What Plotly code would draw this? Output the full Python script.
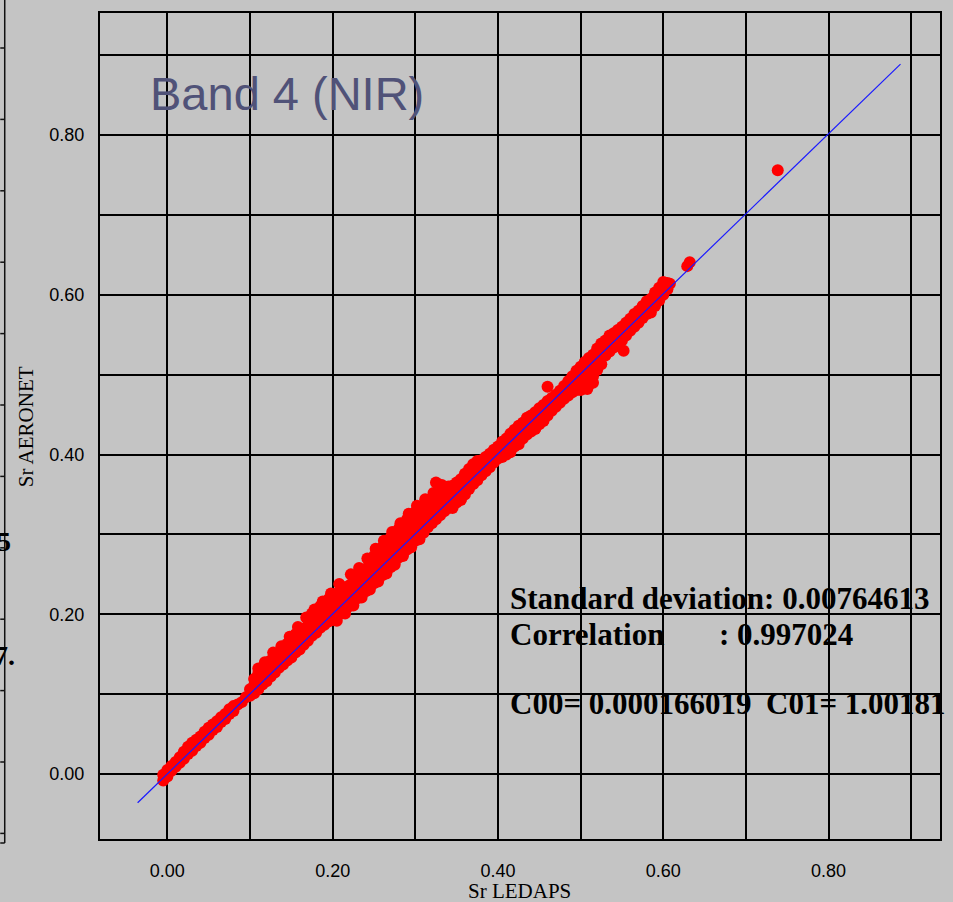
import plotly.graph_objects as go

# ---------------- data ----------------
sr_ledaps = [
    -0.005, -0.005, 0.000, 0.000, 0.005, 0.005, 0.010, 0.010, 0.015, 0.015,
    0.020, 0.020, 0.025, 0.025, 0.030, 0.030, 0.035, 0.035, 0.040, 0.040,
    0.045, 0.045, 0.050, 0.050, 0.055, 0.055, 0.060, 0.060, 0.065, 0.065,
    0.070, 0.070, 0.075, 0.075, 0.080, 0.080, 0.085, 0.090, 0.095, 0.100, 0.100,
    0.105, 0.105, 0.105, 0.110, 0.110, 0.110, 0.115, 0.115, 0.115,
    0.120, 0.120, 0.120, 0.125, 0.125, 0.125, 0.130, 0.130, 0.130,
    0.135, 0.135, 0.135, 0.140, 0.140, 0.140, 0.145, 0.145, 0.145,
    0.150, 0.150, 0.150, 0.155, 0.155, 0.155, 0.160, 0.160, 0.160, 0.160,
    0.165, 0.165, 0.165, 0.170, 0.170, 0.170, 0.170, 0.175, 0.175, 0.175, 0.175,
    0.180, 0.180, 0.180, 0.180, 0.185, 0.185, 0.185, 0.185,
    0.190, 0.190, 0.190, 0.190, 0.195, 0.195, 0.195, 0.195,
    0.200, 0.200, 0.200, 0.200, 0.205, 0.205, 0.205, 0.205,
    0.210, 0.210, 0.210, 0.210, 0.210, 0.215, 0.215, 0.215, 0.215,
    0.220, 0.220, 0.220, 0.220, 0.225, 0.225, 0.225, 0.225,
    0.230, 0.230, 0.230, 0.230, 0.235, 0.235, 0.235, 0.235,
    0.240, 0.240, 0.240, 0.240, 0.245, 0.245, 0.245, 0.245,
    0.250, 0.250, 0.250, 0.250, 0.250, 0.255, 0.255, 0.255, 0.255,
    0.260, 0.260, 0.260, 0.260, 0.260, 0.265, 0.265, 0.265, 0.265,
    0.270, 0.270, 0.270, 0.270, 0.270, 0.275, 0.275, 0.275, 0.275, 0.275,
    0.280, 0.280, 0.280, 0.280, 0.280, 0.285, 0.285, 0.285, 0.285, 0.285,
    0.290, 0.290, 0.290, 0.290, 0.290, 0.295, 0.295, 0.295, 0.295, 0.295,
    0.300, 0.300, 0.300, 0.300, 0.300, 0.305, 0.305, 0.305, 0.305, 0.305,
    0.310, 0.310, 0.310, 0.310, 0.310, 0.315, 0.315, 0.315, 0.315,
    0.320, 0.320, 0.320, 0.320, 0.325, 0.325, 0.325, 0.325, 0.325,
    0.330, 0.330, 0.330, 0.330, 0.335, 0.335, 0.335, 0.335,
    0.340, 0.340, 0.340, 0.340, 0.345, 0.345, 0.345, 0.345,
    0.350, 0.350, 0.350, 0.350, 0.355, 0.355, 0.355, 0.355,
    0.360, 0.360, 0.360, 0.360, 0.365, 0.365, 0.365, 0.365,
    0.370, 0.370, 0.370, 0.370, 0.375, 0.375, 0.375, 0.375,
    0.380, 0.380, 0.380, 0.385, 0.385, 0.385, 0.390, 0.390, 0.390,
    0.395, 0.395, 0.395, 0.400, 0.400, 0.400, 0.405, 0.405, 0.405,
    0.410, 0.410, 0.410, 0.415, 0.415, 0.415, 0.420, 0.420, 0.420,
    0.425, 0.425, 0.425, 0.430, 0.430, 0.430, 0.435, 0.435, 0.435,
    0.440, 0.440, 0.440, 0.445, 0.445, 0.445, 0.450, 0.450, 0.450,
    0.455, 0.455, 0.455, 0.460, 0.460, 0.460, 0.460, 0.465, 0.465, 0.465,
    0.470, 0.470, 0.470, 0.475, 0.475, 0.475, 0.480, 0.480, 0.480,
    0.485, 0.485, 0.485, 0.490, 0.490, 0.490, 0.495, 0.495, 0.495, 0.495,
    0.500, 0.500, 0.500, 0.500, 0.505, 0.505, 0.505, 0.505, 0.505,
    0.510, 0.510, 0.510, 0.510, 0.510, 0.515, 0.515, 0.515, 0.515,
    0.520, 0.520, 0.520, 0.520, 0.525, 0.525, 0.525, 0.525,
    0.530, 0.530, 0.530, 0.535, 0.535, 0.535, 0.540, 0.540, 0.540,
    0.545, 0.545, 0.545, 0.550, 0.550, 0.550, 0.552,
    0.555, 0.555, 0.555, 0.560, 0.560, 0.560, 0.565, 0.565, 0.565,
    0.570, 0.570, 0.570, 0.575, 0.575, 0.575, 0.580, 0.580, 0.580,
    0.585, 0.585, 0.585, 0.590, 0.590, 0.590, 0.595, 0.595, 0.595,
    0.600, 0.600, 0.600, 0.605, 0.605, 0.608,
    0.629, 0.632, 0.7385,
    # upper fringe
    0.110, 0.118, 0.128, 0.138, 0.148, 0.158, 0.168, 0.178, 0.188, 0.198,
    0.208, 0.222, 0.232, 0.242, 0.252, 0.262, 0.272, 0.282, 0.292, 0.302,
    0.312, 0.322, 0.332,
    # lower fringe
    0.205, 0.215, 0.225, 0.235, 0.245, 0.255, 0.265, 0.275, 0.285, 0.295,
    0.305, 0.345, 0.355, 0.415, 0.425, 0.445, 0.455, 0.500, 0.508, 0.515,
]
sr_aeronet = [
    -0.008, -0.001, -0.003, 0.005, 0.004, 0.010, 0.009, 0.015, 0.014, 0.021,
    0.019, 0.028, 0.025, 0.034, 0.029, 0.039, 0.035, 0.043, 0.039, 0.047,
    0.045, 0.053, 0.049, 0.058, 0.055, 0.062, 0.059, 0.066, 0.065, 0.071,
    0.069, 0.075, 0.075, 0.081, 0.079, 0.085, 0.087, 0.090, 0.096, 0.098, 0.106,
    0.101, 0.111, 0.119, 0.106, 0.116, 0.126, 0.112, 0.122, 0.133,
    0.116, 0.126, 0.135, 0.122, 0.132, 0.142, 0.127, 0.137, 0.148,
    0.133, 0.143, 0.151, 0.137, 0.147, 0.156, 0.142, 0.152, 0.163,
    0.146, 0.156, 0.166, 0.152, 0.162, 0.175, 0.156, 0.166, 0.174, 0.182,
    0.162, 0.172, 0.182, 0.167, 0.177, 0.186, 0.194, 0.173, 0.183, 0.193, 0.201,
    0.177, 0.187, 0.196, 0.204, 0.183, 0.193, 0.202, 0.210,
    0.187, 0.196, 0.205, 0.213, 0.191, 0.201, 0.210, 0.219,
    0.193, 0.203, 0.212, 0.222, 0.197, 0.207, 0.216, 0.226,
    0.201, 0.211, 0.220, 0.229, 0.235, 0.205, 0.215, 0.224, 0.233,
    0.210, 0.220, 0.229, 0.236, 0.216, 0.226, 0.235, 0.242,
    0.220, 0.230, 0.239, 0.246, 0.225, 0.235, 0.244, 0.253,
    0.229, 0.239, 0.248, 0.257, 0.235, 0.245, 0.255, 0.265,
    0.239, 0.249, 0.258, 0.267, 0.273, 0.244, 0.254, 0.264, 0.273,
    0.249, 0.259, 0.268, 0.277, 0.284, 0.255, 0.265, 0.275, 0.284,
    0.259, 0.269, 0.278, 0.288, 0.296, 0.265, 0.275, 0.285, 0.294, 0.300,
    0.271, 0.281, 0.291, 0.300, 0.307, 0.276, 0.286, 0.296, 0.305, 0.313,
    0.281, 0.291, 0.301, 0.310, 0.319, 0.287, 0.297, 0.307, 0.316, 0.325,
    0.292, 0.302, 0.312, 0.321, 0.328, 0.297, 0.307, 0.317, 0.326, 0.334,
    0.302, 0.312, 0.322, 0.330, 0.337, 0.309, 0.319, 0.328, 0.337,
    0.314, 0.324, 0.333, 0.341, 0.319, 0.329, 0.337, 0.345, 0.365,
    0.324, 0.334, 0.343, 0.352, 0.329, 0.339, 0.348, 0.359,
    0.333, 0.343, 0.352, 0.360, 0.336, 0.346, 0.355, 0.361,
    0.340, 0.350, 0.359, 0.365, 0.344, 0.354, 0.363, 0.369,
    0.350, 0.360, 0.369, 0.376, 0.357, 0.367, 0.376, 0.382,
    0.363, 0.373, 0.382, 0.388, 0.368, 0.378, 0.386, 0.392,
    0.374, 0.384, 0.393, 0.379, 0.388, 0.397, 0.384, 0.393, 0.401,
    0.390, 0.398, 0.406, 0.395, 0.403, 0.410, 0.397, 0.406, 0.416,
    0.400, 0.410, 0.420, 0.405, 0.415, 0.426, 0.410, 0.420, 0.431,
    0.416, 0.426, 0.436, 0.420, 0.430, 0.440, 0.425, 0.435, 0.446,
    0.429, 0.439, 0.449, 0.433, 0.443, 0.453, 0.438, 0.448, 0.458,
    0.443, 0.453, 0.462, 0.449, 0.459, 0.467, 0.485, 0.455, 0.464, 0.471,
    0.460, 0.469, 0.475, 0.465, 0.474, 0.480, 0.470, 0.480, 0.486,
    0.474, 0.484, 0.492, 0.478, 0.488, 0.498, 0.481, 0.491, 0.500, 0.505,
    0.484, 0.494, 0.503, 0.510, 0.484, 0.493, 0.502, 0.510, 0.516,
    0.487, 0.496, 0.505, 0.513, 0.521, 0.498, 0.507, 0.516, 0.525,
    0.506, 0.516, 0.525, 0.533, 0.513, 0.523, 0.532, 0.539,
    0.524, 0.534, 0.543, 0.529, 0.539, 0.549, 0.534, 0.543, 0.552,
    0.539, 0.548, 0.556, 0.543, 0.552, 0.560, 0.530,
    0.549, 0.558, 0.565, 0.555, 0.563, 0.570, 0.560, 0.568, 0.576,
    0.565, 0.573, 0.580, 0.571, 0.579, 0.586, 0.576, 0.584, 0.592,
    0.578, 0.586, 0.595, 0.586, 0.595, 0.603, 0.593, 0.601, 0.609,
    0.600, 0.608, 0.616, 0.607, 0.615, 0.614,
    0.636, 0.641, 0.756,
    # upper fringe
    0.132, 0.140, 0.152, 0.160, 0.172, 0.184, 0.196, 0.206, 0.216, 0.226,
    0.238, 0.250, 0.258, 0.270, 0.282, 0.292, 0.303, 0.314, 0.326, 0.336,
    0.344, 0.352, 0.362,
    # lower fringe
    0.192, 0.201, 0.211, 0.221, 0.231, 0.241, 0.251, 0.262, 0.273, 0.284,
    0.294, 0.333, 0.343, 0.403, 0.413, 0.432, 0.442, 0.481, 0.482, 0.490,
]

# regression line end points (C00 = 0.000166019, C01 = 1.00181)
fit_x = [-0.036, 0.887]
fit_y = [-0.036, 0.889]

grid_vals = [0.0, 0.1, 0.2, 0.3, 0.4, 0.5, 0.6, 0.7, 0.8, 0.9]
grid_text = ["0.00", "", "0.20", "", "0.40", "", "0.60", "", "0.80", ""]

title_text = "Band 4 (NIR)"
x_title = "Sr LEDAPS"
y_title = "Sr AERONET"
stat_std = "Standard deviation: 0.00764613"
stat_corr_label = "Correlation"
stat_corr_value = ": 0.997024"
stat_c00 = "C00= 0.000166019"
stat_c01 = "C01= 1.00181"

# ---------------- layout helpers ----------------
W, H = 953, 902
L, R, T, B = 100, 11, 13, 63
PW, PH = W - L - R, H - T - B


def px(x):
    return (x - L) / PW


def py(y):
    return (H - B - y) / PH


BG = "#c4c4c4"
serif = "Liberation Serif, Times New Roman, serif"
sans = "Liberation Sans, Arial, sans-serif"

fig = go.Figure()
fig.add_trace(go.Scatter(
    x=sr_ledaps, y=sr_aeronet, mode="markers",
    marker=dict(color="#ff0000", size=12, line=dict(width=0)),
    showlegend=False, hoverinfo="skip",
))
fig.add_trace(go.Scatter(
    x=fit_x, y=fit_y, mode="lines",
    line=dict(color="#1a1aff", width=1.2),
    showlegend=False, hoverinfo="skip",
))

axis_common = dict(
    tickmode="array", tickvals=grid_vals, ticktext=grid_text,
    showgrid=True, gridcolor="#000000", gridwidth=2,
    zeroline=False, showline=True, mirror=True,
    linecolor="#000000", linewidth=2,
    ticks="", tickfont=dict(family=sans, size=18, color="#000000"),
)
fig.update_xaxes(range=[-0.0815, 0.9348], ticklabelstandoff=14, **axis_common)
fig.update_yaxes(range=[-0.0814, 0.953], ticklabelstandoff=10, **axis_common)

ann = []
ann.append(dict(text=title_text, x=px(148), y=py(93), xanchor="left", yanchor="middle",
                font=dict(family=sans, size=47, color="#505278")))
ann.append(dict(text=x_title, x=px(520), y=py(891), xanchor="center", yanchor="middle",
                font=dict(family=serif, size=21, color="#000000")))
ann.append(dict(text=y_title, x=px(26), y=py(427), xanchor="center", yanchor="middle",
                textangle=-90, font=dict(family=serif, size=21, color="#000000")))
stat_font = dict(family=serif, size=31, color="#000000")
ann.append(dict(text="<b>%s</b>" % stat_std, x=px(509), y=py(598), xanchor="left",
                yanchor="middle", font=stat_font))
ann.append(dict(text="<b>%s</b>" % stat_corr_label, x=px(509), y=py(634), xanchor="left",
                yanchor="middle", font=stat_font))
ann.append(dict(text="<b>%s</b>" % stat_corr_value, x=px(718), y=py(634), xanchor="left",
                yanchor="middle", font=stat_font))
ann.append(dict(text="<b>%s</b>" % stat_c00, x=px(509), y=py(703), xanchor="left",
                yanchor="middle", font=stat_font))
ann.append(dict(text="<b>%s</b>" % stat_c01, x=px(766), y=py(703), xanchor="left",
                yanchor="middle", font=stat_font))
# fragments of the neighbouring panel, cut by the left edge as in the source image
ann.append(dict(text="<b>5</b>", x=px(13), y=py(541), xanchor="right", yanchor="middle",
                font=dict(family=serif, size=28, color="#000000")))
ann.append(dict(text="<b>7.</b>", x=px(17), y=py(655), xanchor="right", yanchor="middle",
                font=dict(family=serif, size=28, color="#000000")))
for a in ann:
    a.update(xref="paper", yref="paper", showarrow=False)

shapes = [dict(type="line", xref="paper", yref="paper", x0=px(4.5), x1=px(4.5),
               y0=py(0), y1=py(843), line=dict(color="#111111", width=1.5))]
shapes.append(dict(type="line", xref="paper", yref="paper", x0=px(0), x1=px(4.5),
                   y0=py(843), y1=py(843), line=dict(color="#111111", width=1.5)))
for k in range(12):
    yy = 48 + 71.4 * k
    shapes.append(dict(type="line", xref="paper", yref="paper", x0=px(0), x1=px(4.5),
                       y0=py(yy), y1=py(yy), line=dict(color="#111111", width=1.5)))

fig.update_layout(
    width=W, height=H,
    margin=dict(l=L, r=R, t=T, b=B),
    paper_bgcolor=BG, plot_bgcolor=BG,
    annotations=ann, shapes=shapes,
    showlegend=False,
)

fig.write_html(
    "out.html",
    config={"displayModeBar": False},
    post_script="document.body.style.margin='0';document.body.style.background='%s';" % BG,
)
